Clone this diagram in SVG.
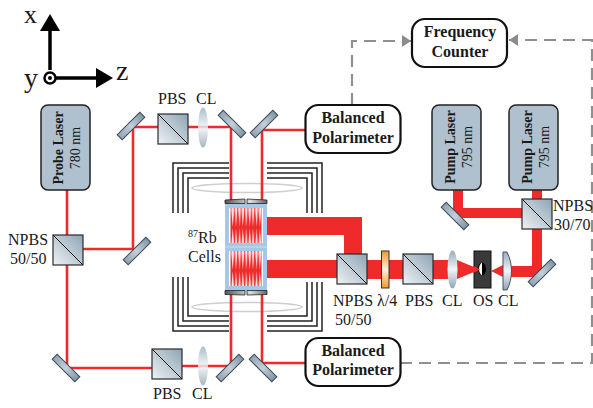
<svg xmlns="http://www.w3.org/2000/svg" width="593" height="408" viewBox="0 0 593 408">
<style>
text{font-family:"Liberation Serif","Times New Roman",serif;fill:#1a1a1a;font-size:16px}
.b{font-weight:bold}
.c{text-anchor:middle}
.beam{fill:none;stroke:#ee2a2a;stroke-width:2.6}
.fat{fill:#ee2a2a}
.coil{fill:none;stroke:#222;stroke-width:1.5}
.dash{fill:none;stroke:#8f8f8f;stroke-width:2.2;stroke-dasharray:12 7}
.laser{fill:#afc0cf;stroke:#222;stroke-width:1.5}
.box{fill:#fff;stroke:#111;stroke-width:2.2}
.lens{fill:url(#lg)}
</style>
<defs>
<linearGradient id="mg" x1="0" y1="0" x2="1" y2="0"><stop offset="0" stop-color="#8fa3b3"/><stop offset="0.5" stop-color="#c3d0da"/><stop offset="1" stop-color="#7f95a6"/></linearGradient>
<linearGradient id="cg" x1="0" y1="1" x2="1" y2="0"><stop offset="0" stop-color="#eef2f5"/><stop offset="1" stop-color="#8ea4b4"/></linearGradient>
<linearGradient id="lg" x1="0" y1="0" x2="0" y2="1"><stop offset="0" stop-color="#98adbc"/><stop offset="0.5" stop-color="#f1f4f6"/><stop offset="1" stop-color="#8ea4b4"/></linearGradient>
<linearGradient id="wg" x1="0" y1="0" x2="0" y2="1"><stop offset="0" stop-color="#f2992e"/><stop offset="0.5" stop-color="#fdf0dc"/><stop offset="1" stop-color="#f2992e"/></linearGradient>
<linearGradient id="capg" x1="0" y1="0" x2="1" y2="0"><stop offset="0" stop-color="#555"/><stop offset="0.6" stop-color="#ddd"/><stop offset="1" stop-color="#666"/></linearGradient>
<pattern id="spikes" width="3.4" height="35" patternUnits="userSpaceOnUse"><polygon points="0.2,0 2.8,0 1.5,17" fill="#fff" fill-opacity=".85"/><polygon points="0.2,35 2.8,35 1.5,18" fill="#fff" fill-opacity=".85"/></pattern>
<rect id="mirror" x="-16" y="-3.500" width="32" height="7" fill="url(#mg)" stroke="#3c4a55" stroke-width="1"/>
<g id="cube"><rect width="30" height="30" fill="url(#cg)" stroke="#2b2b2b" stroke-width="1.2"/><line x1="0" y1="0" x2="30" y2="30" stroke="#1a1a1a" stroke-width="1"/></g>
<marker id="ah" markerUnits="userSpaceOnUse" markerWidth="10" markerHeight="12" refX="9" refY="6" orient="auto"><path d="M0,0L9,6L0,12Z" fill="#8c8c8c"/></marker>
</defs>

<g id="connectors">
<g id="coils" class="coil">
<path d="M173,213V163H229M178,213V168H229M183,213V173H229M188,213V178H229"/>
<path d="M322,213V163H267M317,213V168H267M312,213V173H267M307,213V178H267"/>
<path d="M173,277V331H229M178,277V326H229M183,277V321H229M188,277V316H229"/>
<path d="M322,282V331H267M317,282V326H267M312,282V321H267M307,282V316H267"/>
</g>
<g fill="none" stroke="#cfcfcf" stroke-width="1.5"><ellipse cx="247" cy="188" rx="55" ry="4.5"/><ellipse cx="247" cy="307" rx="55" ry="4.5"/></g>
<path class="beam" d="M67,190V368H152M83,249H133V127H158M188,127H231V368M182,366H231M262,368V130H305M262,363H305"/>
<path class="fat" d="M267,217H362V254H344V235H267ZM267,260H337V278H267ZM367,260H381V279H367ZM389,260H403V279H389ZM433,260H450V279H433ZM457,260L480,269.500L457,279ZM491,271L503,265V277ZM509,266H532V229H542V277H509ZM453,190H463V208H522V218H453ZM532,190H542V199H532Z"/>
<path class="dash" d="M352,105V41H411" marker-end="url(#ah)"/>
<path class="dash" d="M400,363H592V40H509" marker-end="url(#ah)"/>
</g>

<g id="axes">
<path d="M50,70V28M56,78H100" fill="none" stroke="#000" stroke-width="3.5"/>
<polygon points="40,31 60,31 50,14" fill="#000"/>
<polygon points="96,68 113,78 96,88" fill="#000"/>
<circle cx="50" cy="78" r="5.5" fill="#fff" stroke="#000" stroke-width="2.5"/>
<circle cx="50" cy="78" r="2" fill="#000"/>
<text x="24" y="23" style="font-size:26px">x</text>
<text x="24" y="87" style="font-size:28px">y</text>
<text x="116" y="80" style="font-size:28px">z</text>
</g>

<g id="mirrors">
<use href="#mirror" transform="translate(131,126) rotate(-45)"/>
<use href="#mirror" transform="translate(232,124) rotate(45)"/>
<use href="#mirror" transform="translate(264,124) rotate(-45)"/>
<use href="#mirror" transform="translate(137,251) rotate(-45)"/>
<use href="#mirror" transform="translate(66,368) rotate(45)"/>
<use href="#mirror" transform="translate(230,368) rotate(-45)"/>
<use href="#mirror" transform="translate(263,368) rotate(45)"/>
<use href="#mirror" transform="translate(455,216) rotate(45)"/>
<use href="#mirror" transform="translate(542,273) rotate(-45)"/>
</g>

<g id="probe-laser"><rect class="laser" x="41" y="105" width="49" height="85" rx="7"/>
<text class="c b" transform="translate(63,148) rotate(-90)" style="font-size:14px">Probe Laser</text>
<text class="c" transform="translate(80,148) rotate(-90)" style="font-size:14px">780 nm</text></g>
<g id="pump-laser-1"><rect class="laser" x="432" y="105" width="49" height="85" rx="7"/>
<text class="c b" transform="translate(455,147) rotate(-90)" style="font-size:14px">Pump Laser</text>
<text class="c" transform="translate(472,147) rotate(-90)" style="font-size:14px">795 nm</text></g>
<g id="pump-laser-2"><rect class="laser" x="509" y="105" width="49" height="85" rx="7"/>
<text class="c b" transform="translate(532,147) rotate(-90)" style="font-size:14px">Pump Laser</text>
<text class="c" transform="translate(549,147) rotate(-90)" style="font-size:14px">795 nm</text></g>

<g id="pbs-top"><use href="#cube" x="158" y="114"/><text x="158" y="104">PBS</text></g>
<g id="cl-top"><ellipse class="lens" cx="203" cy="127.500" rx="5" ry="20" fill-opacity=".8"/><text x="196" y="104">CL</text></g>
<g id="npbs-left"><use href="#cube" x="53" y="235"/><text x="8" y="245">NPBS</text><text x="10" y="264">50/50</text></g>
<g id="pbs-bottom"><use href="#cube" x="152" y="349"/><text x="153" y="399">PBS</text></g>
<g id="cl-bottom"><ellipse class="lens" cx="203" cy="366" rx="5" ry="19.500" fill-opacity=".8"/><text x="192" y="399">CL</text></g>

<g id="cells">
<rect x="225" y="203" width="42" height="88" fill="#a6c8e8"/>
<line x1="225" y1="247" x2="267" y2="247" stroke="#c8dcf0" stroke-width="1"/>
<rect x="229" y="208" width="34" height="35" fill="#fff"/>
<rect x="230.500" y="208" width="31" height="35" fill="#ee2a2a"/>
<rect x="230.500" y="208" width="31" height="35" fill="url(#spikes)"/>
<g transform="translate(0,43)"><rect x="229" y="208" width="34" height="35" fill="#fff"/><rect x="230.500" y="208" width="31" height="35" fill="#ee2a2a"/><rect x="230.500" y="208" width="31" height="35" fill="url(#spikes)"/></g>
<path d="M225,200L245,199V203.500H225ZM267,200L247,199V203.500H267ZM225,294.500L245,295V290.500H225ZM267,294.500L247,295V290.500H267Z" fill="url(#capg)" stroke="#222" stroke-width="0.8"/>
<text x="188" y="243"><tspan style="font-size:10px" dy="-6">87</tspan><tspan dy="6">Rb</tspan></text>
<text x="188" y="262">Cells</text>
</g>

<g id="npbs-center"><use href="#cube" x="337" y="254"/><text x="333" y="306">NPBS</text><text x="335" y="325">50/50</text></g>
<g id="waveplate"><rect x="381.500" y="251" width="7.500" height="37" fill="url(#wg)" stroke="#333" stroke-width="1"/><text x="377" y="306">λ/4</text></g>
<g id="pbs-2"><use href="#cube" x="403" y="254"/><text x="405" y="306">PBS</text></g>
<g id="cl-2"><ellipse class="lens" cx="452.500" cy="269.500" rx="5" ry="19"/><text x="442" y="306">CL</text></g>
<g id="os"><rect x="474" y="251" width="17" height="37" fill="#3a3a3a" stroke="#111" stroke-width="1"/><ellipse cx="482" cy="269" rx="4" ry="6.500" fill="#000"/><path d="M482,262.500C478,265 478,273 482,275.500Z" fill="#fff"/><path d="M473,265.500L480,269.500L473,273Z" fill="#ee2a2a"/><text x="473" y="306">OS</text></g>
<g id="cl-3"><path class="lens" d="M503,252H507C513,264 513,278 507,290H503Z" stroke="#46545e" stroke-width="1"/><text x="498" y="306">CL</text></g>
<g id="npbs-right"><use href="#cube" x="522" y="199"/><text x="553" y="211">NPBS</text><text x="554" y="230">30/70</text></g>

<g id="polarimeter-top"><rect class="box" x="305.500" y="105" width="95" height="48" rx="13"/>
<text class="c b" x="353" y="123">Balanced</text><text class="c b" x="353" y="143">Polarimeter</text></g>
<g id="polarimeter-bottom"><rect class="box" x="305.500" y="338" width="95" height="48" rx="13"/>
<text class="c b" x="353" y="356">Balanced</text><text class="c b" x="353" y="375">Polarimeter</text></g>
<g id="frequency-counter"><rect class="box" x="412" y="19" width="95" height="48" rx="13"/>
<text class="c b" x="460" y="37">Frequency</text><text class="c b" x="460" y="57">Counter</text></g>
</svg>
